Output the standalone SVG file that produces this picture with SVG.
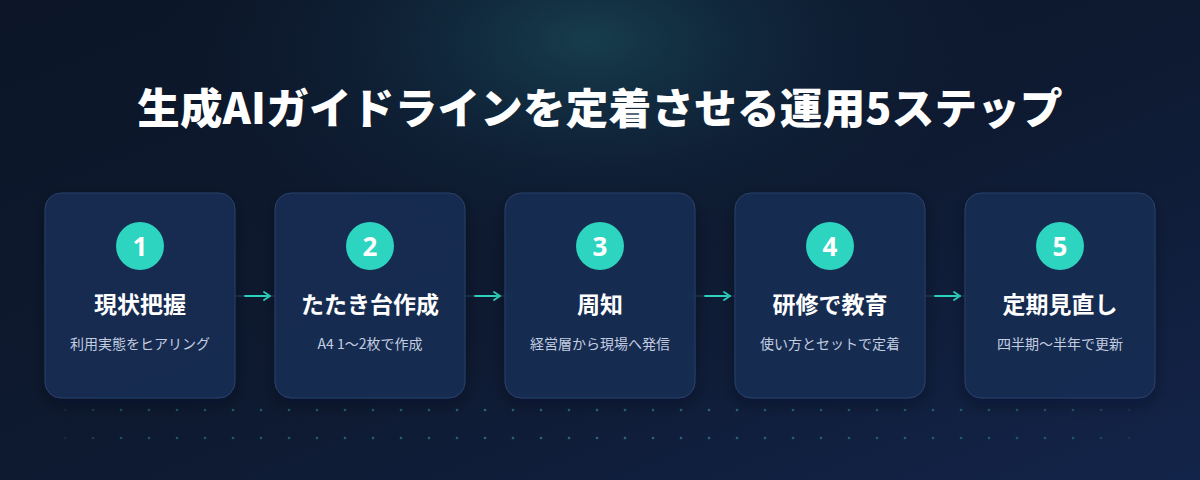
<svg xmlns="http://www.w3.org/2000/svg" width="1200" height="480" viewBox="0 0 1200 480">
<defs>
<linearGradient id="bg" x1="0" y1="0" x2="1" y2="1">
<stop offset="0" stop-color="#0c1628"/>
<stop offset="0.55" stop-color="#0e1a31"/>
<stop offset="1" stop-color="#13244a"/>
</linearGradient>
<radialGradient id="glow" cx="590" cy="40" r="420" gradientUnits="userSpaceOnUse" gradientTransform="translate(590 40) scale(1 0.55) translate(-590 -40)">
<stop offset="0" stop-color="#1a4a58" stop-opacity="0.75"/>
<stop offset="0.5" stop-color="#133348" stop-opacity="0.35"/>
<stop offset="1" stop-color="#0e1a31" stop-opacity="0"/>
</radialGradient>
<radialGradient id="dotfade" cx="600" cy="424" r="560" gradientUnits="userSpaceOnUse">
<stop offset="0" stop-color="#fff" stop-opacity="1"/>
<stop offset="0.85" stop-color="#fff" stop-opacity="0.7"/>
<stop offset="1" stop-color="#fff" stop-opacity="0"/>
</radialGradient>
<mask id="dm"><rect x="0" y="380" width="1200" height="100" fill="url(#dotfade)"/></mask>
<pattern id="dots" x="79" y="396" width="28" height="28" patternUnits="userSpaceOnUse">
<circle cx="14" cy="14" r="1.3" fill="#2a6a7a"/>
</pattern>
<filter id="sh" x="-20%" y="-20%" width="140%" height="150%">
<feDropShadow dx="0" dy="6" stdDeviation="8" flood-color="#050a14" flood-opacity="0.35"/>
</filter>
<marker id="ah" viewBox="0 0 10 10" refX="8" refY="5" markerWidth="10" markerHeight="10" markerUnits="userSpaceOnUse" orient="auto">
<path d="M2 1 L8 5 L2 9" fill="none" stroke="#2dd4bf" stroke-width="1.8" stroke-linecap="round" stroke-linejoin="round"/>
</marker>
<style>
.card{fill:#152b52;fill-opacity:0.92;stroke:#2b426a;stroke-width:1}
.num-bg{fill:#2dd4bf}
.num{font-family:"Noto Sans","Liberation Sans",sans-serif;font-weight:700;font-size:26px;fill:#ffffff;text-anchor:middle}
.head{font-family:"Noto Sans CJK JP","Noto Sans",sans-serif;font-weight:700;font-size:23px;fill:#ffffff;text-anchor:middle}
.sub{font-family:"Noto Sans CJK JP","Noto Sans",sans-serif;font-size:14px;fill:#c3cde0;text-anchor:middle}
.title{font-family:"Noto Sans CJK JP","Noto Sans",sans-serif;font-weight:900;font-size:42.5px;fill:#ffffff;text-anchor:middle;letter-spacing:0.3px}
.arrow{stroke:#2dd4bf;stroke-width:1.8;fill:none;stroke-linecap:round}
</style>
</defs>
<rect width="1200" height="480" fill="url(#bg)"/>
<rect width="1200" height="480" fill="url(#glow)"/>
<rect x="60" y="396" width="1080" height="56" fill="url(#dots)" mask="url(#dm)"/>
<line x1="45" y1="296" x2="1155" y2="296" stroke="#2a5570" stroke-width="1" opacity="0.8"/>

<text class="title" x="600" y="124">生成AIガイドラインを定着させる運用5ステップ</text>

<g id="connectors">
<line class="arrow" x1="245" y1="296" x2="270" y2="296" marker-end="url(#ah)"/>
<line class="arrow" x1="475" y1="296" x2="500" y2="296" marker-end="url(#ah)"/>
<line class="arrow" x1="705" y1="296" x2="730" y2="296" marker-end="url(#ah)"/>
<line class="arrow" x1="935" y1="296" x2="960" y2="296" marker-end="url(#ah)"/>
</g>

<g id="step1">
<rect class="card" x="45" y="193" width="190" height="205" rx="16" filter="url(#sh)"/>
<circle class="num-bg" cx="140" cy="246" r="24"/>
<text class="num" x="140" y="255.5">1</text>
<text class="head" x="140" y="313">現状把握</text>
<text class="sub" x="140" y="349">利用実態をヒアリング</text>
</g>
<g id="step2">
<rect class="card" x="275" y="193" width="190" height="205" rx="16" filter="url(#sh)"/>
<circle class="num-bg" cx="370" cy="246" r="24"/>
<text class="num" x="370" y="255.5">2</text>
<text class="head" x="370" y="313">たたき台作成</text>
<text class="sub" x="370" y="349">A4 1〜2枚で作成</text>
</g>
<g id="step3">
<rect class="card" x="505" y="193" width="190" height="205" rx="16" filter="url(#sh)"/>
<circle class="num-bg" cx="600" cy="246" r="24"/>
<text class="num" x="600" y="255.5">3</text>
<text class="head" x="600" y="313">周知</text>
<text class="sub" x="600" y="349">経営層から現場へ発信</text>
</g>
<g id="step4">
<rect class="card" x="735" y="193" width="190" height="205" rx="16" filter="url(#sh)"/>
<circle class="num-bg" cx="830" cy="246" r="24"/>
<text class="num" x="830" y="255.5">4</text>
<text class="head" x="830" y="313">研修で教育</text>
<text class="sub" x="830" y="349">使い方とセットで定着</text>
</g>
<g id="step5">
<rect class="card" x="965" y="193" width="190" height="205" rx="16" filter="url(#sh)"/>
<circle class="num-bg" cx="1060" cy="246" r="24"/>
<text class="num" x="1060" y="255.5">5</text>
<text class="head" x="1060" y="313">定期見直し</text>
<text class="sub" x="1060" y="349">四半期〜半年で更新</text>
</g>
</svg>
